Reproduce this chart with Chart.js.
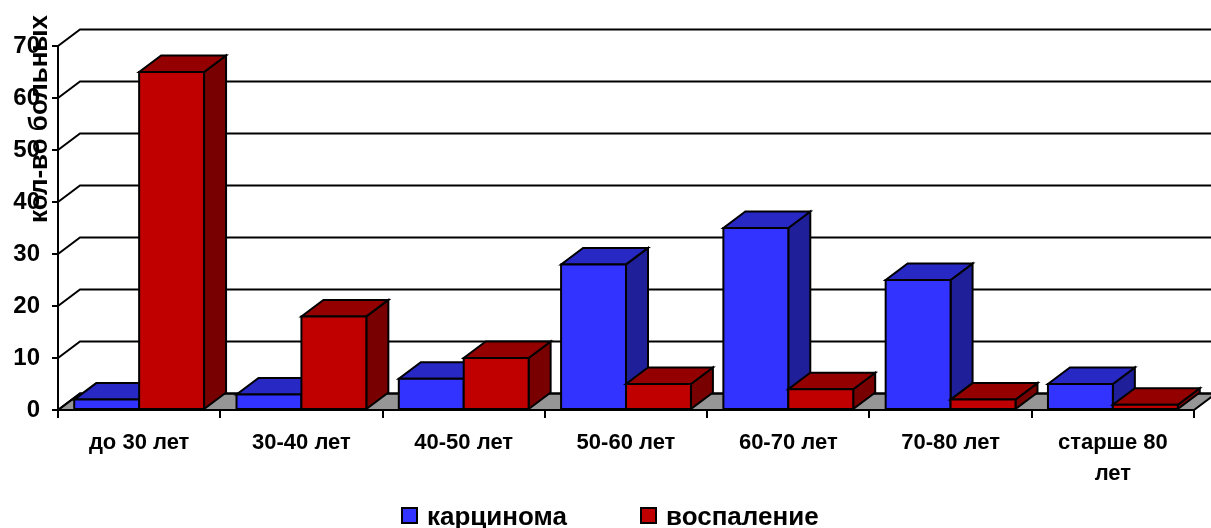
<!DOCTYPE html>
<html>
<head>
<meta charset="utf-8">
<script src="https://cdn.jsdelivr.net/npm/chart.js@4/dist/chart.umd.min.js"></script>
<style>
  html, body { margin: 0; padding: 0; background: #ffffff; }
  #wrap { width: 1211px; height: 528px; }
</style>
</head>
<body>
<div id="wrap"><canvas id="c" width="1211" height="528"></canvas></div>
<script>
// Age groups and patient counts per diagnosis
const categories = ['до 30 лет', '30-40 лет', '40-50 лет', '50-60 лет', '60-70 лет', '70-80 лет', ['старше 80', 'лет']];
const carcinoma = [2, 3, 6, 28, 35, 25, 5];
const inflammation = [65, 18, 10, 5, 4, 2, 1];
const seriesNames = ['карцинома', 'воспаление'];
const yTicks = [0, 10, 20, 30, 40, 50, 60, 70];
const axisTitle = 'кол-во больных';

const FONT = "'Liberation Sans', Arial, sans-serif";

// Face colours for each series: front, top, side
const shades = [
  { front: '#3333FF', top: '#2828C4', side: '#1F1F9A' },
  { front: '#C00000', top: '#940000', side: '#780000' }
];

// Depth of the 3D projection (pixels right and up)
const DX = 22, DY = 16.5;

function poly(ctx, pts, fill) {
  ctx.beginPath();
  ctx.moveTo(pts[0][0], pts[0][1]);
  for (let i = 1; i < pts.length; i++) ctx.lineTo(pts[i][0], pts[i][1]);
  ctx.closePath();
  ctx.fillStyle = fill;
  ctx.fill();
  ctx.stroke();
}

const depthPlugin = {
  id: 'depth3d',
  beforeDatasetsDraw(chart) {
    const { ctx, chartArea: a } = chart;
    const ys = chart.scales.y;
    ctx.save();
    ctx.strokeStyle = '#000';
    ctx.lineWidth = 2;
    ctx.lineJoin = 'miter';
    // floor
    poly(ctx, [[a.left, a.bottom], [a.right, a.bottom], [a.right + DX, a.bottom - DY], [a.left + DX, a.bottom - DY]], '#969696');
    // back wall gridlines with the side-wall diagonals
    yTicks.forEach(v => {
      const y = ys.getPixelForValue(v);
      ctx.beginPath();
      ctx.moveTo(a.left, y);
      ctx.lineTo(a.left + DX, y - DY);
      ctx.lineTo(a.right + DX, y - DY);
      ctx.stroke();
    });
    ctx.restore();
  },
  afterDatasetsDraw(chart) {
    const { ctx } = chart;
    ctx.save();
    ctx.strokeStyle = '#000';
    ctx.lineWidth = 2;
    ctx.lineJoin = 'miter';
    [0, 1].forEach(di => {
      const meta = chart.getDatasetMeta(di);
      const sh = shades[di];
      meta.data.forEach(el => {
        const p = el.getProps(['x', 'y', 'base', 'width'], true);
        const l = p.x - p.width / 2, r = p.x + p.width / 2;
        const t = Math.min(p.y, p.base), b = Math.max(p.y, p.base);
        poly(ctx, [[r, t], [r + DX, t - DY], [r + DX, b - DY], [r, b]], sh.side);
        poly(ctx, [[l, t], [r, t], [r + DX, t - DY], [l + DX, t - DY]], sh.top);
        poly(ctx, [[l, t], [r, t], [r, b], [l, b]], sh.front);
      });
    });
    ctx.restore();
  },
  afterDraw(chart) {
    const { ctx } = chart;
    ctx.save();
    // vertical axis title
    ctx.fillStyle = '#000';
    ctx.font = 'bold 26px ' + FONT;
    ctx.translate(47, 119);
    ctx.rotate(-Math.PI / 2);
    ctx.textAlign = 'center';
    ctx.textBaseline = 'alphabetic';
    ctx.fillText(axisTitle, 0, 0);
    ctx.restore();

    // legend
    ctx.save();
    ctx.font = 'bold 26px ' + FONT;
    ctx.textAlign = 'left';
    ctx.textBaseline = 'alphabetic';
    ctx.lineWidth = 2;
    ctx.strokeStyle = '#000';
    const items = [{ box: 402, text: 427 }, { box: 641, text: 666 }];
    items.forEach((it, i) => {
      ctx.fillStyle = shades[i].front;
      ctx.fillRect(it.box, 508, 15, 15);
      ctx.strokeRect(it.box, 508, 15, 15);
      ctx.fillStyle = '#000';
      ctx.fillText(seriesNames[i], it.text, 525);
    });
    ctx.restore();
  }
};

new Chart(document.getElementById('c'), {
  type: 'bar',
  data: {
    labels: categories,
    datasets: [
      { label: seriesNames[0], data: carcinoma, backgroundColor: shades[0].front, borderColor: '#000', borderWidth: 2 },
      { label: seriesNames[1], data: inflammation, backgroundColor: shades[1].front, borderColor: '#000', borderWidth: 2 }
    ]
  },
  options: {
    responsive: false,
    devicePixelRatio: 1,
    animation: false,
    categoryPercentage: 0.8,
    barPercentage: 1.0,
    layout: { padding: { left: 0, top: 46, right: 17, bottom: 0 } },
    plugins: {
      legend: { display: false },
      tooltip: { enabled: false },
      title: { display: false }
    },
    scales: {
      x: {
        grid: { drawOnChartArea: false, drawTicks: true, tickLength: 8, color: '#000', lineWidth: 2, offset: true },
        border: { display: true, color: '#000', width: 2 },
        ticks: {
          color: '#000',
          padding: 10,
          maxRotation: 0,
          autoSkip: false,
          font: { family: FONT, size: 22, weight: 'bold', lineHeight: 1.38 }
        },
        afterFit(s) { s.height = 118; }
      },
      y: {
        min: 0,
        max: 70,
        afterBuildTicks(s) { s.ticks = yTicks.map(v => ({ value: v })); },
        grid: { drawOnChartArea: false, drawTicks: true, tickLength: 6, color: '#000', lineWidth: 2 },
        border: { display: true, color: '#000', width: 2 },
        ticks: {
          color: '#000',
          padding: 12,
          font: { family: FONT, size: 24, weight: 'bold' }
        },
        afterFit(s) { s.width = 58; }
      }
    }
  },
  plugins: [depthPlugin]
});
</script>
</body>
</html>
